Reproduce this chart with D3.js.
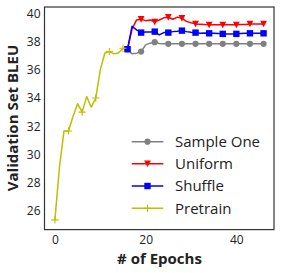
<!DOCTYPE html>
<html>
<head>
<meta charset="utf-8">
<style>
  body { margin: 0; background: #fff; }
  svg { display: block; font-family: "Open Sans", sans-serif; }
  .tick text { font-size: 12px; fill: #222; }
</style>
<script src="https://cdnjs.cloudflare.com/ajax/libs/d3/7.8.5/d3.min.js"></script>
</head>
<body>
<script>
// epochs / BLEU
const pretrainEpochs = [0,1,2,3,4,5,6,7,8,9,10,11,12,13,14,15];
const pretrain = [25.34,29.1,31.66,31.66,32.7,33.6,33.0,34.1,33.35,34.0,36.0,37.2,37.3,37.14,37.2,37.54];

const tuneEpochs = [16,17,18,19,20,21,22,23,24,25,26,27,28,29,30,31,32,33,34,35,36,37,38,39,40,41,42,43,44,45,46];
const sampleOne = [37.47,37.14,37.19,37.3,37.78,37.9,37.97,37.88,37.86,37.85,37.85,37.85,37.85,37.85,37.85,37.85,
                   37.85,37.85,37.85,37.85,37.85,37.85,37.85,37.85,37.85,37.85,37.85,37.85,37.85,37.85,37.85];
const uniform = [37.47,38.9,39.55,39.6,39.5,39.55,39.41,39.55,39.7,39.74,39.6,39.75,39.67,39.45,39.35,39.27,
                 39.25,39.22,39.2,39.2,39.2,39.2,39.2,39.2,39.2,39.22,39.22,39.27,39.27,39.27,39.27];
const shuffle = [37.47,39.1,38.85,38.65,38.7,38.7,38.72,38.49,38.65,38.65,38.72,38.75,38.79,38.72,38.68,38.65,
                 38.6,38.62,38.6,38.6,38.58,38.56,38.56,38.56,38.56,38.58,38.6,38.6,38.6,38.6,38.6];

const seriesNames = ["Sample One", "Uniform", "Shuffle", "Pretrain"];
const xTicks = [0, 20, 40];
const yTicks = [26, 28, 30, 32, 34, 36, 38, 40];

const W = 281, H = 273;
const mLeft = 44.5, mRight = 274, mTop = 7, mBottom = 229.6;

const x = d3.scaleLinear().domain([-2.3, 48.3]).range([mLeft, mRight]);
const y = d3.scaleLinear().domain([24.65, 40.47]).range([mBottom, mTop]);

const svg = d3.select("body").append("svg").attr("width", W).attr("height", H);

const series = [
  {name: seriesNames[0], ep: tuneEpochs, v: sampleOne, color: "#808080", mark: "circle"},
  {name: seriesNames[1], ep: tuneEpochs, v: uniform, color: "#ff0000", mark: "tri"},
  {name: seriesNames[2], ep: tuneEpochs, v: shuffle, color: "#0000ff", mark: "square"},
  {name: seriesNames[3], ep: pretrainEpochs, v: pretrain, color: "#bfbf00", mark: "plus"}
];

function drawMarker(g, kind, color) {
  if (kind === "circle") g.append("circle").attr("r", 3.1).attr("fill", color);
  else if (kind === "tri") g.append("path").attr("d", "M-3.4,-3.2L3.4,-3.2L0,3.4Z").attr("fill", color);
  else if (kind === "square") g.append("rect").attr("x", -3.2).attr("y", -3.2).attr("width", 6.4).attr("height", 6.4).attr("fill", color);
  else g.append("path").attr("d", "M-3.6,0H3.6M0,-3.6V3.6").attr("stroke", color).attr("stroke-width", 1.1).attr("fill", "none");
}

const line = d3.line().x(d => x(d[0])).y(d => y(d[1]));

series.forEach(s => {
  const pts = s.ep.map((e, i) => [e, s.v[i]]);
  svg.append("path").attr("d", line(pts)).attr("fill", "none")
    .attr("stroke", s.color).attr("stroke-width", 1.5).attr("stroke-linejoin", "round");
  pts.filter((d, i) => i % 3 === 0).forEach(d => {
    const g = svg.append("g").attr("transform", `translate(${x(d[0])},${y(d[1])})`);
    drawMarker(g, s.mark, s.color);
  });
});

// axes, no tick marks
const xAxis = svg.append("g").attr("transform", `translate(0,${mBottom})`)
  .call(d3.axisBottom(x).tickValues(xTicks).tickSize(0).tickPadding(6));
const yAxis = svg.append("g").attr("transform", `translate(${mLeft},0)`)
  .call(d3.axisLeft(y).tickValues(yTicks).tickSize(0).tickPadding(4));
xAxis.select(".domain").remove();
yAxis.select(".domain").remove();
svg.selectAll(".tick text").attr("font-family", "Open Sans");

svg.append("rect").attr("x", mLeft).attr("y", mTop).attr("width", mRight - mLeft).attr("height", mBottom - mTop)
  .attr("fill", "none").attr("stroke", "#333").attr("stroke-width", 1.2);

// legend
const legY = [141.7, 163.7, 186, 208.3];
series.forEach((s, i) => {
  const g = svg.append("g").attr("transform", `translate(0,${legY[i]})`);
  g.append("line").attr("x1", 131.7).attr("x2", 163.3).attr("stroke", s.color).attr("stroke-width", 1.5);
  const m = g.append("g").attr("transform", "translate(147.5,0)");
  drawMarker(m, s.mark, s.color);
  g.append("text").attr("x", 175).attr("y", 5.3).attr("font-size", 15).attr("fill", "#222").text(s.name);
});

svg.append("text").attr("x", 159.5).attr("y", 263.8).attr("text-anchor", "middle")
  .attr("font-size", 15).attr("font-weight", "bold").attr("fill", "#222").text("# of Epochs");
svg.append("text").attr("transform", "translate(18.3,118) rotate(-90)").attr("text-anchor", "middle")
  .attr("font-size", 15).attr("font-weight", "bold").attr("fill", "#222").text("Validation Set BLEU");
</script>
</body>
</html>
